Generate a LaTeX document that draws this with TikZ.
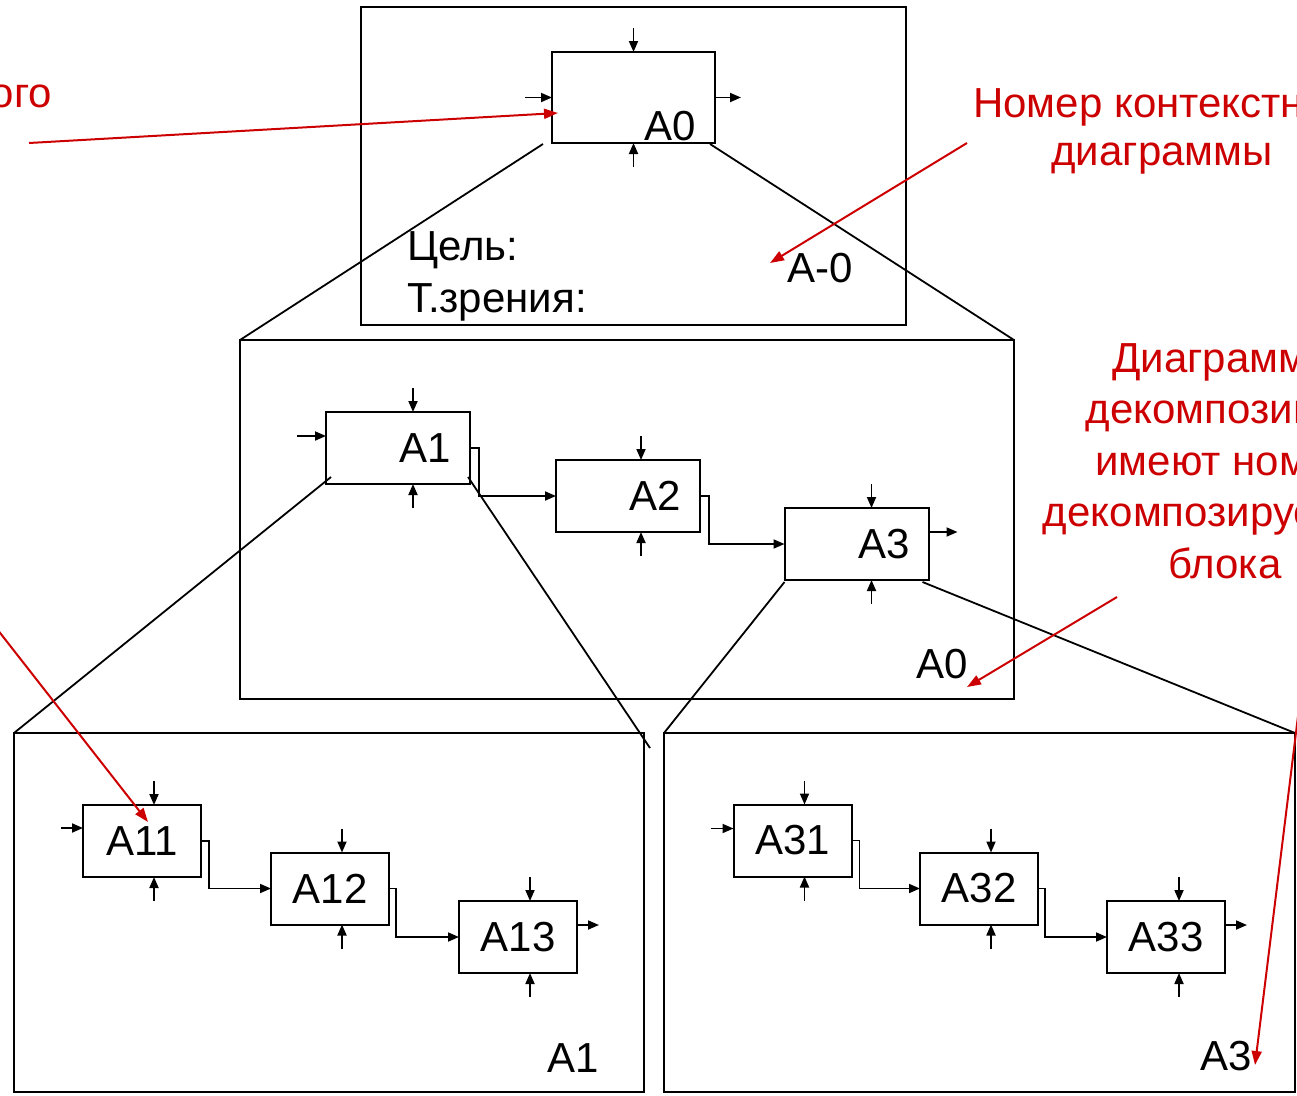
\documentclass[tikz,border=0pt]{standalone}
\usepackage{fontspec}
\setmainfont{Liberation Sans}
\usetikzlibrary{arrows.meta}
\definecolor{notered}{RGB}{204,0,0}
\tikzset{
  every node/.style={inner sep=0pt, outer sep=0pt, font=\fontsize{42}{51.5}\selectfont},
  sheet/.style={draw, line width=2.2pt, rectangle},
  actbox/.style={draw, line width=2pt, rectangle, minimum height=72pt},
  wide/.style={actbox, minimum width=144pt, text width=106pt, inner xsep=19pt, align=right},
  narrow/.style={actbox, minimum width=118pt},
  tip/.style={-{Triangle[length=11pt,width=9pt]}},
  stub/.style={tip, line width=1.8pt},
  flow/.style={tip, line width=1.8pt},
  zoomline/.style={line width=1.8pt},
  notetext/.style={text=notered},
  notearrow/.style={draw=notered, line width=2pt, -{Triangle[length=14pt,width=10pt]}},
}
% control (top) and mechanism (bottom) stubs of a box
\newcommand\ctlmech[2]{%
  \draw[stub] ([xshift=#2,yshift=24pt]#1.north) -- ([xshift=#2]#1.north);
  \draw[stub] ([xshift=#2,yshift=-24pt]#1.south) -- ([xshift=#2]#1.south);}
% input stub: box, length, vertical offset
\newcommand\inputarrow[3]{%
  \draw[stub] ([xshift=-#2,yshift=#3]#1.west) -- ([yshift=#3]#1.west);}
% output stub: box, length, vertical offset
\newcommand\outputarrow[3]{%
  \draw[stub] ([yshift=#3]#1.east) -- ([xshift=#2,yshift=#3]#1.east);}

\begin{document}
\begin{tikzpicture}[x=1pt,y=-1pt]
\useasboundingbox (0,0) rectangle (1297,1095);
\clip (0,0) rectangle (1297,1095);

% diagram sheets
\node[sheet, minimum width=545pt, minimum height=318pt] (S0) at (633.5,166) {};
\node[sheet, minimum width=774pt, minimum height=359pt] (S1) at (627,519.5) {};
\node[sheet, minimum width=630pt, minimum height=359pt] (S11) at (329,912.5) {};
\node[sheet, minimum width=631pt, minimum height=359pt] (S13) at (979.5,912.5) {};

% context diagram A-0
\node[actbox, minimum width=163pt, minimum height=91pt] (A0) at (633.5,97.5) {};
\node[anchor=base east] (A0num) at ([xshift=-19pt,yshift=3pt]A0.south east) {A0};
\ctlmech{A0}{0pt}
\inputarrow{A0}{27pt}{0pt}
\outputarrow{A0}{26pt}{0pt}
\node[anchor=base west, align=left] (goal) at (407,312) {Цель:\\Т.зрения:};
\node[anchor=base east] (S0num) at (853,282) {A-0};

% diagram A0
\node[wide] (A1) at (398,448) {A1};
\node[wide] (A2) at (628,496) {A2};
\node[wide] (A3) at (856.5,544) {A3};
\ctlmech{A1}{15pt}
\ctlmech{A2}{13pt}
\ctlmech{A3}{15pt}
\inputarrow{A1}{29pt}{12pt}
\outputarrow{A3}{29pt}{12pt}
\draw[flow] (A1.east) -- ++(9,0) |- (A2.west);
\draw[flow] (A2.east) -- ++(9,0) |- (A3.west);
\node[anchor=base east] (S1num) at (968,678) {A0};

% diagram A1
\node[narrow] (A11) at (142,841) {A11};
\node[narrow] (A12) at (330,888.5) {A12};
\node[narrow] (A13) at (518,937) {A13};
\ctlmech{A11}{12pt}
\ctlmech{A12}{12pt}
\ctlmech{A13}{12pt}
\inputarrow{A11}{22pt}{13pt}
\outputarrow{A13}{22pt}{12pt}
\draw[flow] (A11.east) -- ++(8,0) |- (A12.west);
\draw[flow] (A12.east) -- ++(7,0) |- (A13.west);
\node[anchor=base east] (S11num) at (599,1072) {A1};

% diagram A3
\node[narrow] (A31) at (792.5,840.5) {A31};
\node[narrow] (A32) at (979,888.5) {A32};
\node[narrow] (A33) at (1166,937) {A33};
\ctlmech{A31}{12pt}
\ctlmech{A32}{12pt}
\ctlmech{A33}{13pt}
\inputarrow{A31}{23pt}{12pt}
\outputarrow{A33}{22pt}{12pt}
\draw[flow] (A31.east) -- ++(8,0) |- (A32.west);
\draw[flow] (A32.east) -- ++(7,0) |- (A33.west);
\node[anchor=base east] (S13num) at (1252,1070) {A3};

% decomposition rays
\draw[zoomline] ([xshift=-9pt,yshift=-1pt]A0.south west) -- (S1.north west);
\draw[zoomline] ([xshift=-5pt,yshift=-1pt]A0.south east) -- (S1.north east);
\draw[zoomline] ([xshift=5pt,yshift=7pt]A1.south west) -- (S11.north west);
\coordinate (A1cut) at (650,748);
\draw[zoomline] ([xshift=-2pt,yshift=7pt]A1.south east) -- (A1cut);
\draw[zoomline] ([yshift=-2pt]A3.south west) -- (S13.north west);
\draw[zoomline] ([xshift=-6pt,yshift=-2pt]A3.south east) -- (S13.north east);

% notes
\node[notetext, anchor=base east] (n1) at (52,107) {ого};
\node[notetext, align=center, anchor=base, font=\fontsize{42}{48}\selectfont] (n2) at (1162,165) {Номер контекстной\\диаграммы};
\node[notetext, align=center, anchor=base] (n3) at (1225,578) {Диаграммы\\декомпозиции\\имеют номер\\декомпозируемого\\блока};

\coordinate (n1from) at (29,143);
\coordinate (n1to) at (558,113);
\coordinate (n2from) at (967,143);
\coordinate (n2to) at (770,263);
\coordinate (n3from) at (1117,597);
\coordinate (n3to) at (967,687);
\coordinate (n4from) at (-10,620);
\coordinate (n4to) at (148,822);
\coordinate (n5from) at (1300,700);
\coordinate (n5to) at (1255,1065);
\draw[notearrow] (n1from) -- (n1to);
\draw[notearrow] (n2from) -- (n2to);
\draw[notearrow] (n3from) -- (n3to);
\draw[notearrow] (n4from) -- (n4to);
\draw[notearrow] (n5from) -- (n5to);
\end{tikzpicture}
\end{document}
